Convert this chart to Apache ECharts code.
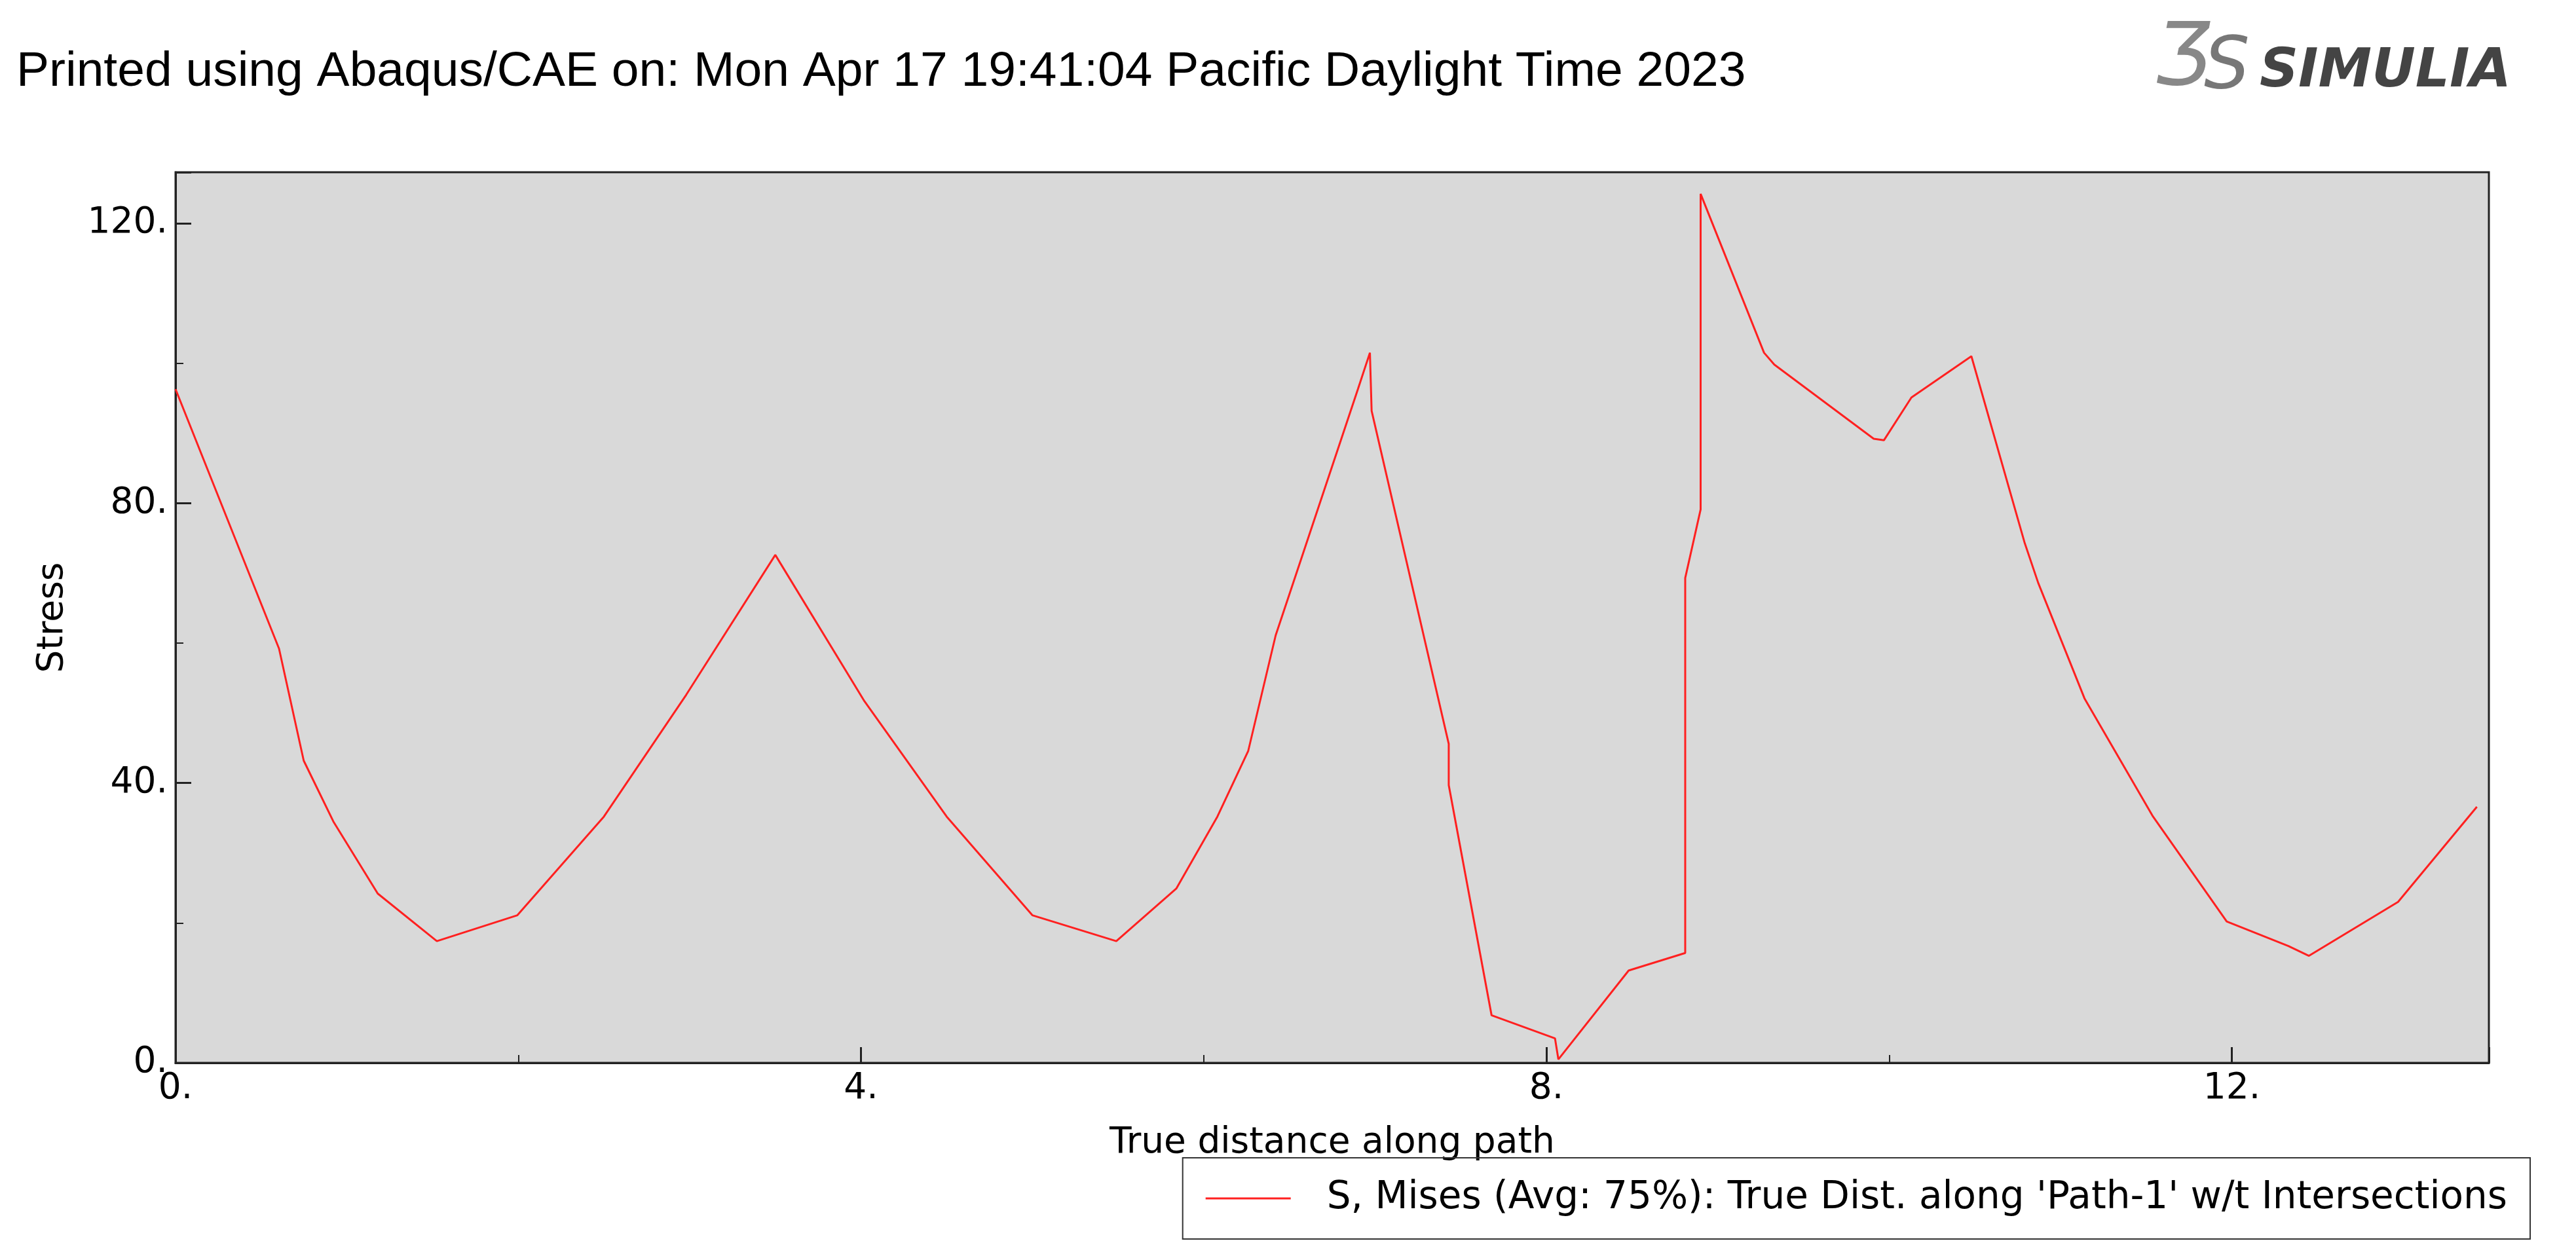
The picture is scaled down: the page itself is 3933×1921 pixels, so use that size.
<!DOCTYPE html>
<html><head><meta charset="utf-8">
<script src="https://cdn.jsdelivr.net/npm/echarts@6/dist/echarts.min.js"></script>
<style>html,body{margin:0;padding:0;background:#fff}#c{width:3933px;height:1921px}</style>
</head><body><div id="c"></div>
<script>
const distance = [0,0.604,0.748,0.921,1.18,1.525,1.995,2.50,2.98,3.50,4.02,4.50,5.00,5.49,5.84,6.08,6.26,6.42,6.90,6.97,6.98,7.43,7.43,7.68,8.05,8.07,8.48,8.81,8.81,8.90,8.90,9.27,9.33,9.91,9.97,10.13,10.48,10.79,10.87,11.14,11.54,11.97,12.33,12.45,12.97,13.43];
const stress = [96.3,59.2,43.2,34.5,24.2,17.4,21.1,35.2,52.6,72.6,51.7,35.2,21.1,17.4,24.9,35.2,44.6,61.1,96.3,101.5,93.2,45.6,39.7,6.8,3.5,0.5,13.2,15.7,69.3,79.1,124.2,101.5,99.8,89.2,89,95.1,101,74.4,68.6,52.1,35.2,20.2,16.7,15.3,23,36.6];
const seriesName = "S, Mises (Avg: 75%): True Dist. along 'Path-1' w/t Intersections";
const font = 'DejaVu Sans';
const chart = echarts.init(document.getElementById('c'));
chart.setOption({
  backgroundColor:'#fff',
  animation:false,
  title:{text:'Printed using Abaqus/CAE on: Mon Apr 17 19:41:04 Pacific Daylight Time 2023',left:20,top:68,textStyle:{fontFamily:'Liberation Sans',fontSize:75,fontWeight:'normal',color:'#000'}},
  graphic:[
    {type:'text',left:3290,top:28,style:{text:'Ʒ',font:'italic 130px "DejaVu Sans"',fill:'#888'}},
    {type:'text',left:3365,top:50,style:{text:'S',font:'italic 110px "DejaVu Sans"',fill:'#777'}},
    {type:'text',left:3450,top:70,style:{text:'SIMULIA',font:'italic bold 82px "DejaVu Sans"',fill:'#444'}}],
  legend:{right:70,top:1768,width:2040,height:126,padding:[33,35],borderColor:'#333',borderWidth:2,itemWidth:130,itemHeight:3,itemGap:20,
    textStyle:{fontFamily:font,fontSize:58,color:'#000',padding:[0,0,0,50]},icon:'rect',
    data:[{name:seriesName}]},
  grid:{left:268,right:133,top:263,bottom:298,show:true,backgroundColor:'#d9d9d9',borderColor:'#222',borderWidth:3,containLabel:false},
  xAxis:{type:'value',min:0,max:13.5,interval:4,
    name:'True distance along path',nameLocation:'middle',nameGap:95,nameTextStyle:{fontFamily:font,fontSize:55,color:'#000'},
    axisLine:{lineStyle:{color:'#222',width:3}},axisTick:{inside:true,length:24,lineStyle:{color:'#222',width:3}},
    minorTick:{show:true,splitNumber:2,length:12,lineStyle:{color:'#222',width:2}},
    splitLine:{show:false},
    axisLabel:{showMaxLabel:false,fontFamily:font,fontSize:55,color:'#000',margin:12,formatter:v=>v+'.'}},
  yAxis:{type:'value',min:0,max:127.3,interval:40,
    name:'Stress',nameLocation:'middle',nameGap:160,nameTextStyle:{fontFamily:font,fontSize:55,color:'#000'},
    axisLine:{lineStyle:{color:'#222',width:3}},axisTick:{inside:true,length:24,lineStyle:{color:'#222',width:3}},
    minorTick:{show:true,splitNumber:2,length:12,lineStyle:{color:'#222',width:2}},
    splitLine:{show:false},
    axisLabel:{showMaxLabel:false,fontFamily:font,fontSize:55,color:'#000',margin:12,formatter:v=>v+'.'}},
  series:[{name:seriesName,type:'line',data:distance.map((d,i)=>[d,stress[i]]),showSymbol:false,symbol:'none',
    lineStyle:{color:'#ff2020',width:3},itemStyle:{color:'#ff2020'}}]
});
</script></body></html>
